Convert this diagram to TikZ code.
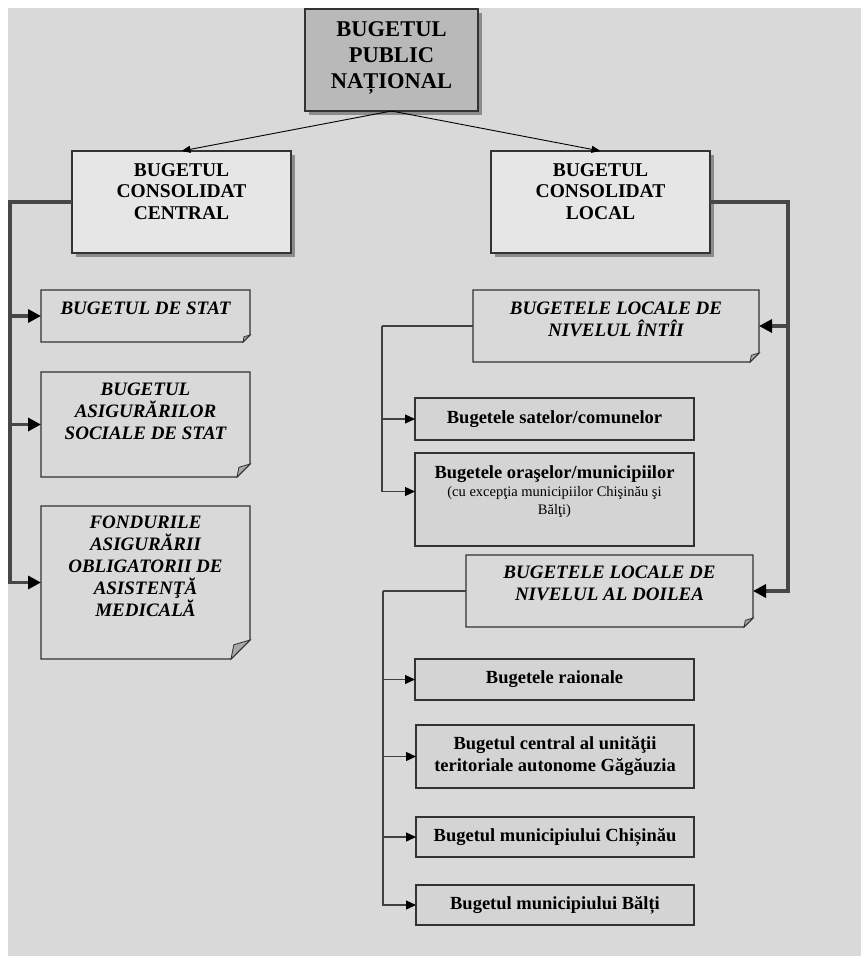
\documentclass[tikz,border=0pt]{standalone}
\usepackage{fontspec}
\setmainfont{Liberation Serif}
\usetikzlibrary{arrows.meta,shadows}
\definecolor{pagegray}{HTML}{D9D9D9}
\definecolor{topgray}{HTML}{B9B9B9}
\definecolor{midgray}{HTML}{E6E6E6}
\definecolor{leafgray}{HTML}{D4D4D4}
\definecolor{foldgray}{HTML}{A8A8A8}
\definecolor{linegray}{HTML}{333333}

\begin{document}
\begin{tikzpicture}[x=1pt, y=-1pt,
    box/.style={rectangle, draw=linegray, line width=1.2pt, inner sep=0pt, outer sep=0pt},
    headbox/.style={box, drop shadow={shadow xshift=4pt, shadow yshift=-4pt, fill=black!45, opacity=1}},
    notebox/.style={rectangle, draw=none, inner sep=0pt, outer sep=0pt},
    leafbox/.style={box, fill=leafgray, align=center, font=\bfseries\fontsize{18.5}{22}\selectfont},
    headtext/.style={anchor=north, inner sep=0pt, align=center, font=\bfseries\fontsize{19.5}{21.5}\selectfont},
    notetext/.style={anchor=north, inner sep=0pt, align=center, font=\bfseries\itshape\fontsize{19}{22}\selectfont},
    bus/.style={line width=3.5pt, draw=black!72, line join=miter},
    busarrow/.style={bus, -{Triangle[length=13pt,width=13pt,color=black]}},
    feed/.style={line width=1.3pt, draw=black!75},
    branch/.style={feed, -{Triangle[length=10pt,width=9pt,color=black]}}
]

% Page
\useasboundingbox (0,0) rectangle (861,956);
\fill[white] (0,0) rectangle (861,956);
\fill[pagegray] (8,8) rectangle (861,956);

% Top levels
\node[headbox, fill=topgray, minimum width=173pt, minimum height=102pt] (national) at (391.5,60) {};
\node[headbox, fill=midgray, minimum width=219pt, minimum height=102pt] (central) at (181.5,202) {};
\node[headbox, fill=midgray, minimum width=219pt, minimum height=102pt] (local) at (600.5,202) {};

% Notes
\node[notebox, minimum width=209pt, minimum height=52pt] (statebudget) at (145.5,316) {};
\node[notebox, minimum width=209pt, minimum height=105pt] (social) at (145.5,424.5) {};
\node[notebox, minimum width=209pt, minimum height=153pt] (medical) at (145.5,582.5) {};
\node[notebox, minimum width=286pt, minimum height=72pt] (firstlevel) at (616,326) {};
\node[notebox, minimum width=287pt, minimum height=72pt] (secondlevel) at (609.5,591) {};

\foreach \n/\f in {statebudget/7pt, social/13pt, medical/19pt, firstlevel/9pt, secondlevel/9pt} {
  \draw[line width=1.2pt, draw=linegray, fill=pagegray] (\n.north west) -- (\n.north east)
    -- ([yshift=\f]\n.south east) -- ([xshift=-\f]\n.south east) -- (\n.south west) -- cycle;
  \draw[line width=0.8pt, draw=linegray, fill=foldgray] ([yshift=\f]\n.south east)
    -- ([xshift=-\f]\n.south east) -- ([xshift=-0.85*\f, yshift=0.75*\f]\n.south east) -- cycle;
}

% Leaves
\node[leafbox, minimum width=279pt, minimum height=42pt] (villages) at (554.5,419) {Bugetele satelor/comunelor};
\node[leafbox, minimum width=279pt, minimum height=93pt] (towns) at (554.5,499.5) {};
\node[leafbox, minimum width=279pt, minimum height=41pt] (districts) at (554.5,679.5) {Bugetele raionale};
\node[leafbox, minimum width=278pt, minimum height=63pt] (gagauzia) at (555,756.5) {Bugetul central al unităţii\\teritoriale autonome Găgăuzia};
\node[leafbox, minimum width=278pt, minimum height=40pt] (chisinau) at (555,837) {Bugetul municipiului Chișinău};
\node[leafbox, minimum width=278pt, minimum height=40pt] (balti) at (555,905) {Bugetul municipiului Bălți};

% Texts
\node[headtext, font=\bfseries\fontsize{22.5}{26}\selectfont] (national-t) at ([yshift=-12pt]national.north) {BUGETUL\\PUBLIC\\NAȚIONAL};
\node[headtext] (central-t) at ([yshift=-12pt]central.north) {BUGETUL\\CONSOLIDAT\\CENTRAL};
\node[headtext] (local-t) at ([yshift=-12pt]local.north) {BUGETUL\\CONSOLIDAT\\LOCAL};
\node[notetext] (statebudget-t) at ([yshift=-12pt]statebudget.north) {BUGETUL DE STAT};
\node[notetext] (social-t) at ([yshift=-11pt]social.north) {BUGETUL\\ASIGURĂRILOR\\SOCIALE DE STAT};
\node[notetext] (medical-t) at ([yshift=-10pt]medical.north) {FONDURILE\\ASIGURĂRII\\OBLIGATORII DE\\ASISTENŢĂ\\MEDICALĂ};
\node[notetext] (firstlevel-t) at ([yshift=-12pt]firstlevel.north) {BUGETELE LOCALE DE\\NIVELUL ÎNTÎI};
\node[notetext] (secondlevel-t) at ([yshift=-11pt]secondlevel.north) {BUGETELE LOCALE DE\\NIVELUL AL DOILEA};
\node[headtext, font=\bfseries\fontsize{18.5}{18}\selectfont] (towns-t) at ([yshift=-12pt]towns.north)
  {Bugetele oraşelor/municipiilor\\{\mdseries\fontsize{14.5}{18}\selectfont (cu excepţia municipiilor Chişinău şi}\\{\mdseries\fontsize{14.5}{18}\selectfont Bălţi)}};

% Split of the national budget
\draw[line width=0.9pt, -{Triangle[length=9pt,width=7pt]}] (national.south) -- (central.north);
\draw[line width=0.9pt, -{Triangle[length=9pt,width=7pt]}] (national.south) -- (local.north);

% Central bus
\coordinate (lbus) at (10,202);
\draw[busarrow] (central.west) -- (lbus) |- (medical.west);
\foreach \n in {statebudget, social}
  \draw[busarrow] (lbus |- \n.west) -- (\n.west);

% Local bus
\coordinate (rbus) at (788,202);
\draw[busarrow] (local.east) -- (rbus) |- (secondlevel.east);
\draw[busarrow] (rbus |- firstlevel.east) -- (firstlevel.east);

% First level
\coordinate (tree1) at (382,326);
\draw[feed] (firstlevel.west) -- (tree1);
\draw[branch] (tree1) |- (villages.west);
\draw[branch] (tree1) |- ([yshift=8pt]towns.west);

% Second level
\coordinate (tree2) at (383,591);
\draw[feed] (secondlevel.west) -- (tree2);
\foreach \n in {districts, gagauzia, chisinau, balti}
  \draw[branch] (tree2) |- (\n.west);

\end{tikzpicture}
\end{document}
